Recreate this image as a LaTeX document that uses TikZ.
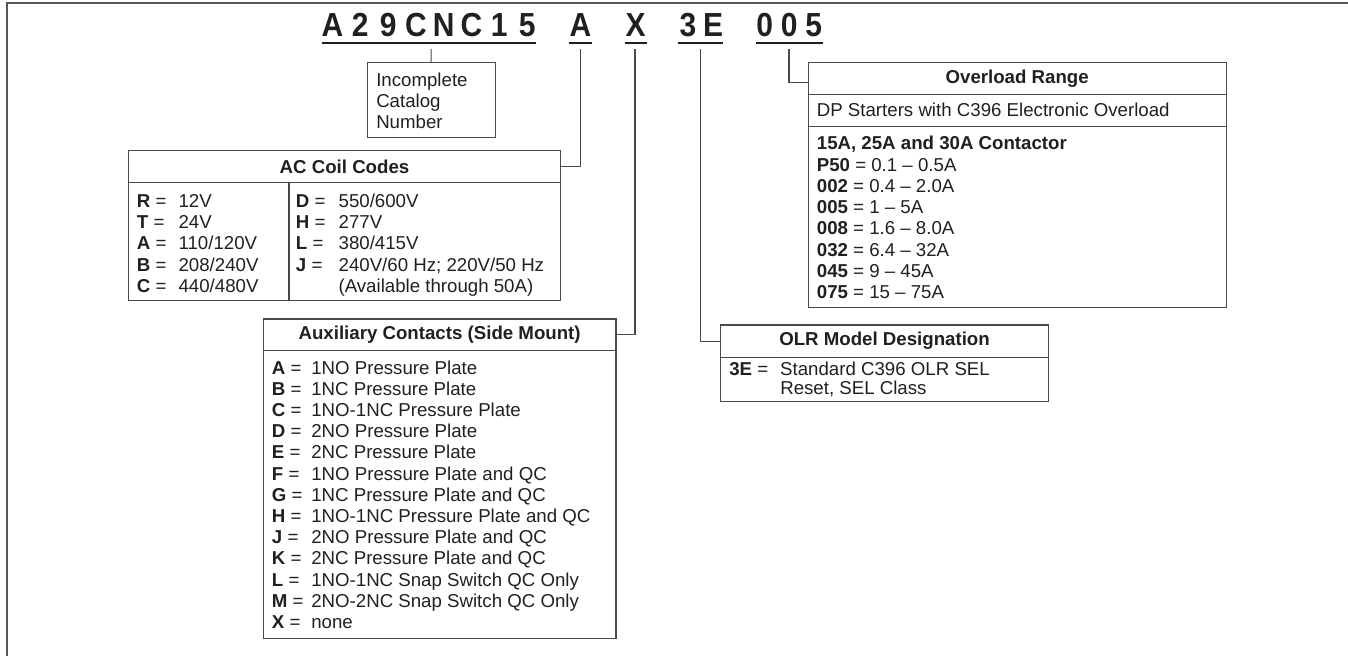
\documentclass[tikz,border=0pt]{standalone}
\usepackage{fontspec}
\setmainfont{Liberation Sans}
\newfontfamily\codefont{Liberation Sans}[FakeStretch=0.9]
\usepackage{xcolor}
\usepackage{tikz}

\definecolor{ink}{HTML}{231F20}
\definecolor{rule}{HTML}{4A4A4A}
\newcommand\bodyfont{\fontsize{14}{15.9}\selectfont}

\tikzset{
  box/.style={draw=rule,line width=0.8pt,anchor=north west,inner sep=0pt,outer sep=0pt},
  hdr/.style={box,font=\bodyfont\bfseries,text=ink},
  txt/.style={anchor=base west,inner sep=0pt,font=\bodyfont,text=ink},
  codechar/.style={anchor=base,inner sep=0pt,text=ink,
    font=\codefont\bfseries\fontsize{25}{25}\selectfont},
  uline/.style={draw=ink,line width=2pt},
  lead/.style={draw=rule,line width=0.8pt},
  frame/.style={draw=black!65,line width=1.3pt}
}

\begin{document}
\begin{tikzpicture}[x=0.75pt,y=-0.75pt]
  \useasboundingbox (0,0) rectangle (1348,656);
  \draw[frame] (1348,3.3) -- (7.3,3.3) -- (7.3,656);

  % catalog number
  \foreach \c [count=\i from 0] in {A,2,9,C,N,C,1,5}
    \node[codechar] (cat\i) at (332.5+27.8*\i,36.7) {\c};
  \node[codechar] (coil) at (580.5,36.7) {A};
  \node[codechar] (aux) at (635.7,36.7) {X};
  \node[codechar] (olr0) at (688,36.7) {3};
  \node[codechar] (olr1) at (713,36.7) {E};
  \foreach \c [count=\i from 0] in {0,0,5}
    \node[codechar] (ovl\i) at (764.6+24.6*\i,36.7) {\c};
  \draw[uline] (321.7,43) -- (536,43);
  \draw[uline] (569.3,43) -- (591.7,43);
  \draw[uline] (625,43) -- (646.5,43);
  \draw[uline] (678.3,43) -- (722.7,43);
  \draw[uline] (756,43) -- (822.7,43);

  % incomplete catalog number
  \node[box,minimum width=95.8pt,minimum height=56pt] (inc) at (367.3,62.7) {};
  \foreach \t [count=\i from 0] in {Incomplete,Catalog,Number}
    \node[txt] (inc\i) at (376,86.7+20.8*\i) {\t};

  % AC coil codes
  \node[hdr,minimum width=324.3pt,minimum height=23.7pt] (coilhd) at (128.3,150.7) {AC Coil Codes};
  \node[box,minimum width=324.3pt,minimum height=88.3pt] (coilbd) at (128.3,182.3) {};
  \draw[lead] (289,182.3) -- (289,300);
  \foreach \k/\v [count=\i from 0] in {R/12V,T/24V,A/{110/120V},B/{208/240V},C/{440/480V}}
    \node[txt] (cl\i) at (136.7,207.3+21.3*\i) {\makebox[31.2pt][l]{\textbf{\k} =}\v};
  \foreach \k/\v [count=\i from 0] in {D/{550/600V},H/277V,L/{380/415V},J/{240V/60 Hz; 220V/50 Hz}}
    \node[txt] (cr\i) at (295.7,207.3+21.3*\i) {\makebox[32pt][l]{\textbf{\k} =}\v};
  \node[txt] (cr4) at (338.3,207.3+21.3*4) {(Available through 50A)};

  % auxiliary contacts
  \node[hdr,minimum width=264.5pt,minimum height=23.8pt] (auxhd) at (263.3,319) {Auxiliary Contacts (Side Mount)};
  \node[box,minimum width=264.5pt,minimum height=215.5pt] (auxbd) at (263.3,350.7) {};
  \foreach \k/\v [count=\i from 0] in {
      A/1NO Pressure Plate, B/1NC Pressure Plate, C/1NO-1NC Pressure Plate,
      D/2NO Pressure Plate, E/2NC Pressure Plate, F/1NO Pressure Plate and QC,
      G/1NC Pressure Plate and QC, H/1NO-1NC Pressure Plate and QC,
      J/2NO Pressure Plate and QC, K/2NC Pressure Plate and QC,
      L/1NO-1NC Snap Switch QC Only, M/2NO-2NC Snap Switch QC Only, X/none}
    \node[txt] (ax\i) at (271.7,374+21.2*\i) {\makebox[29.5pt][l]{\textbf{\k} =}\v};

  % overload range
  \node[hdr,minimum width=313.3pt,minimum height=23.7pt] (ovlhd) at (808.3,62.7) {Overload Range};
  \node[box,minimum width=313.3pt,minimum height=24.3pt] (ovlsub) at (808.3,94.3) {};
  \node[box,minimum width=313.3pt,minimum height=135.75pt] (ovlbd) at (808.3,126.7) {};
  \node[txt] (ovt) at (816.6,116.5) {DP Starters with C396 Electronic Overload};
  \node[txt] (ov0) at (816.6,150) {\textbf{15A, 25A and 30A Contactor}};
  \foreach \k/\v [count=\i from 1] in {P50/{0.1 – 0.5A},002/{0.4 – 2.0A},005/{1 – 5A},
      008/{1.6 – 8.0A},032/{6.4 – 32A},045/{9 – 45A},075/{15 – 75A}}
    \node[txt] (ov\i) at (816.6,150+21.2*\i) {\textbf{\k} = \v};

  % OLR model designation
  \node[hdr,minimum width=245.7pt,minimum height=24.2pt] (olrhd) at (720.7,325) {OLR Model Designation};
  \node[box,minimum width=245.7pt,minimum height=33.3pt] (olrbd) at (720.7,357.3) {};
  \node[txt] (od0) at (729,375.5) {\makebox[38.2pt][l]{\textbf{3E} =}Standard C396 OLR SEL};
  \node[txt] (od1) at (780,394.5) {Reset, SEL Class};

  % leads
  \coordinate (lcat) at (431.2,49);
  \coordinate (lcoil) at (580.7,49);
  \coordinate (laux) at (635,49);
  \coordinate (lolr) at (700.7,49);
  \coordinate (lovl) at (789,49);
  \draw[lead] (lcat) -- (inc.north);
  \draw[lead] (lcoil) |- (coilhd.east);
  \draw[lead] (laux) |- (auxhd.east);
  \draw[lead] (lolr) |- (olrhd.west);
  \draw[lead] (lovl) |- ([yshift=-3pt]ovlhd.west);
\end{tikzpicture}
\end{document}
